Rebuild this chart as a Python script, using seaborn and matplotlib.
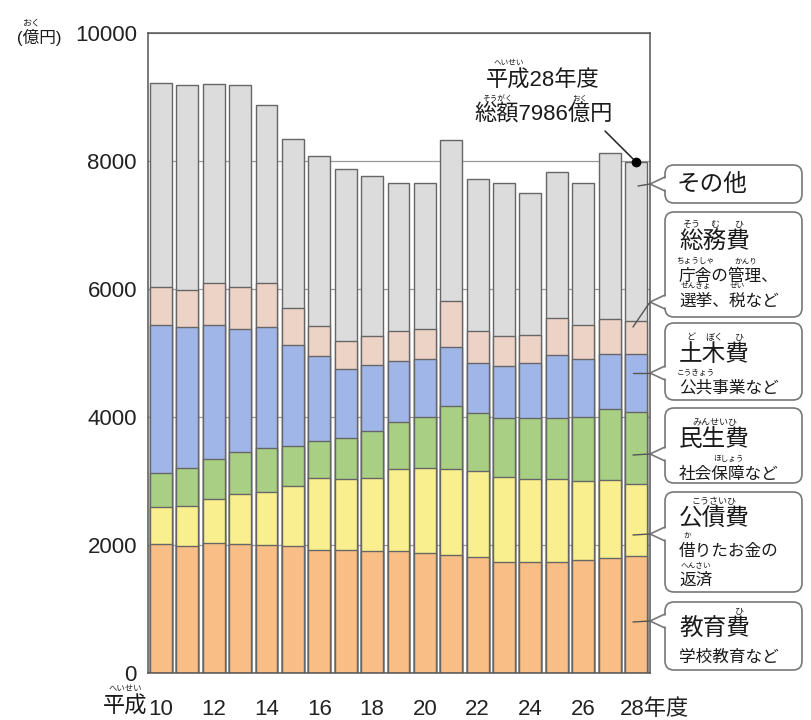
import numpy as np
import matplotlib
matplotlib.use("Agg")
import matplotlib.pyplot as plt
from matplotlib.patches import FancyBboxPatch, Polygon
import seaborn as sns

# 平成10〜28年度の歳出内訳（億円）
years = list(range(10, 29))
education = [2020, 1990, 2030, 2020, 2000, 1980, 1920, 1920, 1900, 1900,
             1870, 1840, 1810, 1740, 1740, 1740, 1770, 1800, 1830]
debt = [570, 620, 690, 780, 830, 940, 1130, 1110, 1150, 1280,
        1330, 1340, 1340, 1320, 1290, 1290, 1230, 1220, 1130]
welfare = [540, 590, 620, 660, 690, 630, 570, 640, 730, 740,
           800, 990, 910, 930, 960, 960, 1000, 1100, 1120]
civil = [2300, 2200, 2090, 1920, 1890, 1570, 1330, 1080, 1030, 950,
         900, 930, 790, 800, 850, 980, 900, 870, 910]
general = [600, 590, 660, 650, 680, 590, 470, 430, 460, 470,
           470, 720, 490, 470, 440, 570, 530, 540, 510]
other = [3190, 3190, 3120, 3160, 2790, 2640, 2660, 2690, 2500, 2310,
         2280, 2510, 2380, 2390, 2220, 2290, 2220, 2590, 2486]

series = [education, debt, welfare, civil, general, other]
colors = ["#F8BE85", "#FAEF8E", "#A9CF85", "#A0B6E8", "#EDD2C6", "#DCDCDC"]
yticks = [0, 2000, 4000, 6000, 8000, 10000]
xtick_years = [10, 12, 14, 16, 18, 20, 22, 24, 26]

sns.set_style("white")
FAM = ["Liberation Sans", "Noto Sans CJK JP"]
plt.rcParams["font.family"] = FAM

W, H = 811, 720
fig = plt.figure(figsize=(W / 100, H / 100), dpi=100)
fig.patch.set_facecolor("white")

ax = fig.add_axes([148 / W, 1 - 673 / H, 502 / W, 640 / H])

cum = np.cumsum(np.array(series, dtype=float), axis=0)
xlab = [str(y) for y in years]
# stacked bars: draw cumulative totals from the top layer down
for level in range(len(series) - 1, -1, -1):
    sns.barplot(x=xlab, y=cum[level], color=colors[level], saturation=1,
                width=0.83, edgecolor="#666666", linewidth=1.0, ax=ax)

ax.set_xlim(-0.49, 18.53)
ax.set_ylim(0, 10000)
ax.set_yticks(yticks)
ax.set_yticklabels([str(v) for v in yticks], fontsize=16, color="#222222")
ax.tick_params(axis="y", length=0, pad=8)
ax.set_xticks([])
ax.set_xlabel("")
ax.set_ylabel("")
ax.yaxis.grid(True, color="#9a9a9a", lw=0.9)
ax.set_axisbelow(True)
for s in ax.spines.values():
    s.set_visible(True)
    s.set_color("#555555")
    s.set_linewidth(1.1)

# year labels under the bars
xt = ax.get_xaxis_transform()
for y in xtick_years:
    ax.text(years.index(y), -0.0656, str(y), transform=xt, ha="center",
            va="baseline", fontsize=16, color="#222222")
ax.text(years.index(28) - 0.6, -0.0656, "28年度", transform=xt, ha="left",
        va="baseline", fontsize=16, color="#222222")

# total marker on the last bar
last = len(years) - 1
ax.plot([last], [cum[-1][last]], "o", color="black", ms=6, clip_on=False,
        zorder=10)
ax.annotate("", xy=(last, cum[-1][last]), xycoords="data",
            xytext=(605, H - 131), textcoords="figure pixels",
            arrowprops=dict(arrowstyle="-", color="#222222", lw=1.1,
                            shrinkA=0, shrinkB=3))

# overlay in pixel coordinates for labels and callouts
ov = fig.add_axes([0, 0, 1, 1], zorder=5)
ov.set_xlim(0, W)
ov.set_ylim(H, 0)
ov.axis("off")
ov.patch.set_alpha(0)

fig.canvas.draw()
renderer = fig.canvas.get_renderer()


def text_w(s, size):
    if not s:
        return 0.0
    t = fig.text(0, 0, s, fontsize=size, family=FAM)
    w = t.get_window_extent(renderer).width
    t.remove()
    return w


def line(x, y, s, size, ruby=(), ha="left", rsize=6.5, rgap=5):
    # y is the glyph centre; ruby kana sit just above their base characters
    px = size * 1.389
    ov.text(x, y, s, fontsize=size, ha=ha, va="center", color="#1a1a1a",
            family=FAM)
    x0 = x if ha == "left" else x - text_w(s, size) / 2
    for i, j, kana in ruby:
        c = x0 + (text_w(s[:i], size) + text_w(s[:j], size)) / 2
        ov.text(c, y - px * 0.55 - rgap, kana, fontsize=rsize, ha="center",
                va="center", color="#1a1a1a", family=FAM)


# y unit label
line(17, 37, "(億円)", 12, ruby=[(1, 2, "おく")])
# era prefix for the first year label
line(103, 707, "平成", 16, ruby=[(0, 2, "へいせい")], rsize=6)

# total annotation
line(543, 81, "平成28年度", 16, ruby=[(0, 2, "へいせい")], ha="center",
     rsize=5.5)
line(544, 115, "総額7986億円", 16, ruby=[(0, 2, "そうがく"), (6, 7, "おく")],
     ha="center", rsize=5.5, rgap=4)

# category callout boxes
BX0, BX1 = 665, 802
boxes = [
    # (top, bottom, tail_y, tip)
    (165, 203, 184, (638, 186)),
    (212, 317, 302, (633, 327)),
    (323, 400, 373, (633, 373)),
    (408, 483, 454, (633, 455)),
    (492, 592, 534, (633, 535)),
    (602, 670, 621, (633, 622)),
]
for top, bot, ty, tip in boxes:
    ov.add_patch(FancyBboxPatch((BX0, top), BX1 - BX0, bot - top,
                                boxstyle="round,pad=0,rounding_size=9",
                                fc="white", ec="#777777", lw=1.2))
    p1, p2, apex = (BX0, ty - 7), (BX0, ty + 7), (650, ty)
    ov.add_patch(Polygon([(BX0 + 1.5, ty - 6), apex, (BX0 + 1.5, ty + 6)],
                         closed=True, fc="white", ec="none", zorder=3))
    ov.plot([p1[0], apex[0], p2[0]], [p1[1], apex[1], p2[1]],
            color="#777777", lw=1.2, zorder=4)
    ov.plot([apex[0], tip[0]], [apex[1], tip[1]], color="#555555", lw=1.0,
            zorder=4)

TX = 679
line(677, 185, "その他", 17)

line(TX, 242, "総務費", 17, ruby=[(0, 1, "そう"), (1, 2, "む"), (2, 3, "ひ")])
line(TX, 276, "庁舎の管理、", 12, ruby=[(0, 2, "ちょうしゃ"), (3, 5, "かんり")],
     rsize=5.5)
line(TX, 301, "選挙、税など", 12, ruby=[(0, 2, "せんきょ"), (3, 4, "ぜい")],
     rsize=5.5)

line(TX, 355, "土木費", 17, ruby=[(0, 1, "ど"), (1, 2, "ぼく"), (2, 3, "ひ")])
line(TX, 388, "公共事業など", 12, ruby=[(0, 2, "こうきょう")], rsize=5.5)

line(TX, 440, "民生費", 17, ruby=[(0, 3, "みんせいひ")])
line(TX, 474, "社会保障など", 12, ruby=[(2, 4, "ほしょう")], rsize=5.5)

line(TX, 519, "公債費", 17, ruby=[(0, 3, "こうさいひ")])
line(TX, 551, "借りたお金の", 12, ruby=[(0, 1, "か")], rsize=5.5)
line(TX, 580, "返済", 12, ruby=[(0, 2, "へんさい")], rsize=5.5)

line(TX, 629, "教育費", 17, ruby=[(2, 3, "ひ")])
line(TX, 657, "学校教育など", 12)

fig.savefig("out.png", dpi=100, facecolor="white")
